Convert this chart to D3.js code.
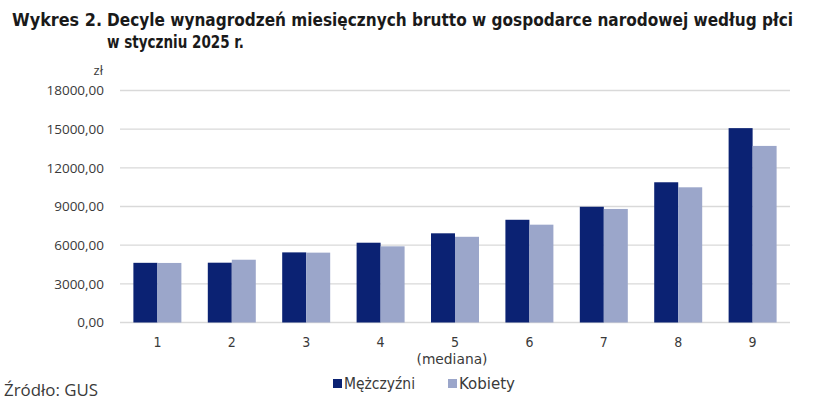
<!DOCTYPE html>
<html>
<head>
    <meta charset="utf-8">
    <style>
        body { margin: 0; background: #fff; }
        text { font-family: "Open Sans", sans-serif; }
        .cond { font-family: "DejaVu Sans Condensed", "Liberation Sans Narrow", Roboto, sans-serif; }
    </style>
    <script src="https://d3js.org/d3.v7.min.js"></script>
</head>
<body>
    <svg width="834" height="405"></svg>
    <script>
        // dane
        var decyle = ["1", "2", "3", "4", "5", "6", "7", "8", "9"];
        var mezczyzni = [4630, 4640, 5440, 6190, 6920, 7970, 8980, 10880, 15080];
        var kobiety = [4620, 4870, 5420, 5910, 6650, 7590, 8810, 10490, 13700];
        var serie = ["Mężczyźni", "Kobiety"];
        var yTicks = [0, 3000, 6000, 9000, 12000, 15000, 18000];

        var kolory = ["#0b2273", "#9ba6ca"];

        var svg = d3.select("svg");

        var margin = { left: 120, right: 44, top: 90.5, bottom: 82.5 };
        var width = 834, height = 405;

        var x = d3.scaleBand()
            .domain(decyle)
            .range([margin.left, width - margin.right])
            .paddingInner(0.355)
            .paddingOuter(0.18);

        var xs = d3.scaleBand()
            .domain(serie)
            .range([0, x.bandwidth()]);

        var y = d3.scaleLinear()
            .domain([0, 18000])
            .range([height - margin.bottom, margin.top]);

        // linie siatki
        svg.append("g")
            .selectAll("line")
            .data(yTicks)
            .enter().append("line")
            .attr("x1", margin.left)
            .attr("x2", width - margin.right)
            .attr("y1", function(d) { return y(d); })
            .attr("y2", function(d) { return y(d); })
            .attr("stroke", "#d9d9d9")
            .attr("stroke-width", 1.3);

        // etykiety osi y
        var fmt = function(d) { return d3.format(".2f")(d).replace(".", ","); };
        svg.append("g")
            .selectAll("text")
            .data(yTicks)
            .enter().append("text")
            .attr("x", 104)
            .attr("y", function(d) { return y(d); })
            .attr("dy", "0.36em")
            .attr("text-anchor", "end")
            .attr("font-size", 13.5)
            .attr("fill", "#3a3a3a")
            .text(fmt);

        svg.append("text")
            .attr("x", 103)
            .attr("y", 75)
            .attr("text-anchor", "end")
            .attr("font-size", 13)
            .attr("fill", "#3a3a3a")
            .text("zł");

        // słupki
        var dane = decyle.map(function(d, i) {
            return { decyl: d, wart: [mezczyzni[i], kobiety[i]] };
        });

        var grupy = svg.append("g")
            .selectAll("g")
            .data(dane)
            .enter().append("g")
            .attr("transform", function(d) { return "translate(" + x(d.decyl) + ",0)"; });

        grupy.selectAll("rect")
            .data(function(d) {
                return d.wart.map(function(v, j) { return { seria: serie[j], v: v, j: j }; });
            })
            .enter().append("rect")
            .attr("x", function(d) { return xs(d.seria); })
            .attr("width", xs.bandwidth())
            .attr("y", function(d) { return y(d.v); })
            .attr("height", function(d) { return y(0) - y(d.v); })
            .attr("fill", function(d) { return kolory[d.j]; });

        // etykiety osi x
        svg.append("g")
            .selectAll("text")
            .data(decyle)
            .enter().append("text")
            .attr("class", "cond")
            .attr("x", function(d) { return x(d) + x.bandwidth() / 2; })
            .attr("y", 347)
            .attr("text-anchor", "middle")
            .attr("font-size", 14)
            .attr("fill", "#3a3a3a")
            .text(function(d) { return d; });

        svg.append("text")
            .attr("class", "cond")
            .attr("x", x("5") + x.bandwidth() / 2 - 3)
            .attr("y", 363.5)
            .attr("text-anchor", "middle")
            .attr("font-size", 14)
            .attr("textLength", 71)
            .attr("lengthAdjust", "spacingAndGlyphs")
            .attr("fill", "#3a3a3a")
            .text("(mediana)");

        // legenda
        var legX = [333, 448];
        var legW = [71, 56];
        var leg = svg.append("g")
            .selectAll("g")
            .data(serie)
            .enter().append("g")
            .attr("transform", function(d, i) { return "translate(" + legX[i] + ",379)"; });

        leg.append("rect")
            .attr("width", 9)
            .attr("height", 9)
            .attr("fill", function(d, i) { return kolory[i]; });

        leg.append("text")
            .attr("class", "cond")
            .attr("x", 11)
            .attr("y", 10)
            .attr("font-size", 15)
            .attr("textLength", function(d, i) { return legW[i]; })
            .attr("lengthAdjust", "spacingAndGlyphs")
            .attr("fill", "#3a3a3a")
            .text(function(d) { return d; });

        // źródło
        svg.append("text")
            .attr("x", 4)
            .attr("y", 396)
            .attr("font-size", 16)
            .attr("textLength", 94)
            .attr("lengthAdjust", "spacingAndGlyphs")
            .attr("fill", "#3a3a3a")
            .text("Źródło: GUS");

        // tytuł
        var tytul = svg.append("g")
            .attr("font-weight", "bold")
            .attr("fill", "#1a1a1a");

        tytul.append("text")
            .attr("class", "cond")
            .attr("x", 12)
            .attr("y", 26)
            .attr("font-size", 18)
            .attr("textLength", 90)
            .attr("lengthAdjust", "spacingAndGlyphs")
            .text("Wykres 2.");

        tytul.append("text")
            .attr("class", "cond")
            .attr("x", 107)
            .attr("y", 26)
            .attr("font-size", 18)
            .attr("textLength", 686)
            .attr("lengthAdjust", "spacingAndGlyphs")
            .text("Decyle wynagrodzeń miesięcznych brutto w gospodarce narodowej według płci");

        tytul.append("text")
            .attr("class", "cond")
            .attr("x", 107)
            .attr("y", 48)
            .attr("font-size", 18)
            .attr("textLength", 137)
            .attr("lengthAdjust", "spacingAndGlyphs")
            .text("w styczniu 2025 r.");
    </script>
</body>
</html>
